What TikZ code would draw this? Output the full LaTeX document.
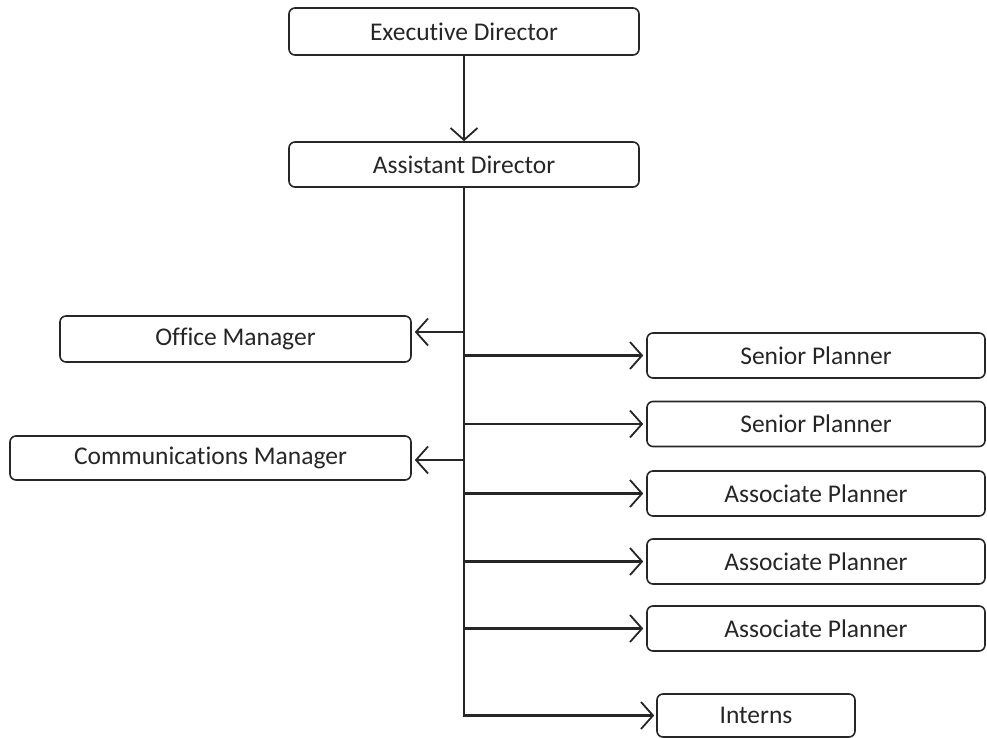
\documentclass[tikz,border=0pt]{standalone}
\usepackage{fontspec}
\setmainfont[Ligatures=NoCommon]{Carlito}
\usetikzlibrary{arrows.meta}
\begin{document}
\begin{tikzpicture}[x=1pt,y=1pt,
  box/.style={draw=black!85, line width=1.6pt, rounded corners=6pt, inner sep=0pt,
    font=\fontsize{25.5}{29}\selectfont, text=black!85},
  link/.style={draw=black!85, line width=2.3pt,
    -{Straight Barb[length=12pt,width=27pt,line width=1.8pt]}},
  trunk/.style={draw=black!85, line width=2.3pt}]
\useasboundingbox (0,0) rectangle (987,-738);
\node[box, minimum width=350pt, minimum height=47pt] (ed) at (464,-31.5) {Executive Director};
\node[box, minimum width=350pt, minimum height=45pt] (ad) at (464,-164.5) {Assistant Director};
\node[box, minimum width=351pt, minimum height=46pt] (om) at (235.5,-339) {Office Manager};
\node[box, minimum width=401pt, minimum height=44pt] (cm) at (210.5,-458) {Communications Manager};
\node[box, minimum width=338pt, minimum height=45pt] (sp1) at (816,-355.5) {Senior Planner};
\node[box, minimum width=338pt, minimum height=45pt] (sp2) at (816,-424) {Senior Planner};
\node[box, minimum width=338pt, minimum height=45pt] (ap1) at (816,-493.5) {Associate Planner};
\node[box, minimum width=338pt, minimum height=45pt] (ap2) at (816,-561.5) {Associate Planner};
\node[box, minimum width=338pt, minimum height=45pt] (ap3) at (816,-628.5) {Associate Planner};
\node[box, minimum width=198pt, minimum height=43pt] (in) at (756,-715.5) {Interns};
\coordinate (tom) at (464,-332);
\coordinate (tcm) at (464,-460);
\coordinate (tsp1) at (464,-355.5);
\coordinate (tsp2) at (464,-424);
\coordinate (tap1) at (464,-493.5);
\coordinate (tap2) at (464,-561.5);
\coordinate (tap3) at (464,-628.5);
\draw[link] (ed.south) -- (ad.north);
\draw[link] (ad.south) |- ([xshift=-2pt]in.west);
\draw[link] (tom) -- ([xshift=3pt]tom -| om.east);
\draw[link] (tcm) -- ([xshift=3pt]tcm -| cm.east);
\draw[link] (tsp1) -- ([xshift=-3pt]sp1.west);
\draw[link] (tsp2) -- ([xshift=-3pt]sp2.west);
\draw[link] (tap1) -- ([xshift=-3pt]ap1.west);
\draw[link] (tap2) -- ([xshift=-3pt]ap2.west);
\draw[link] (tap3) -- ([xshift=-3pt]ap3.west);
\end{tikzpicture}
\end{document}
